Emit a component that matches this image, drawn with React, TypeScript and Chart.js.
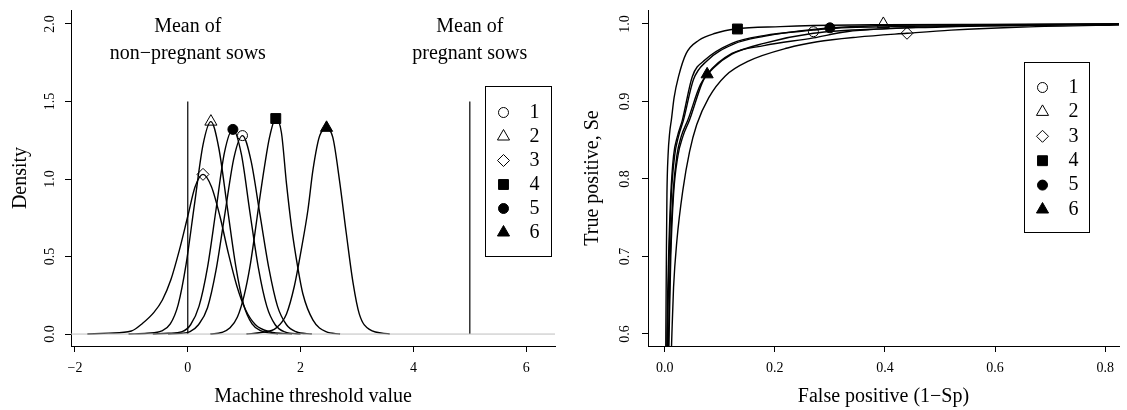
import React, { useEffect, useRef } from 'react';
import { Chart, registerables } from 'chart.js';
import { drawPoint } from 'chart.js/helpers';

Chart.register(...registerables);

const FONT = "'Liberation Serif', 'Times New Roman', serif";

const seriesNames = ['1', '2', '3', '4', '5', '6'];

// ---------- Left panel: densities of machine threshold value ----------
const dens1X = [-0.35, -0.12, 0.04, 0.19, 0.35, 0.5, 0.66, 0.82, 0.97, 1.12, 1.28, 1.44, 1.59, 1.75, 1.92, 2.2];
const dens1Y = [0.0, 0.005, 0.016, 0.06, 0.17, 0.41, 0.78, 1.14, 1.28, 1.12, 0.77, 0.42, 0.18, 0.06, 0.015, 0.0];

const dens2X = [-1.05, -0.72, -0.46, -0.31, -0.17, -0.03, 0.12, 0.27, 0.41, 0.55, 0.7, 0.85, 0.99, 1.14, 1.3, 1.6];
const dens2Y = [0.0, 0.005, 0.02, 0.065, 0.19, 0.45, 0.84, 1.22, 1.37, 1.2, 0.82, 0.44, 0.19, 0.065, 0.02, 0.0];

const dens3X = [-1.78, -1.4, -1.0, -0.8, -0.6, -0.45, -0.3, -0.15, 0.0, 0.13, 0.27, 0.42, 0.57, 0.72, 0.87, 1.02, 1.2, 1.45, 1.85];
const dens3Y = [0.0, 0.006, 0.02, 0.07, 0.14, 0.22, 0.35, 0.54, 0.76, 0.95, 1.03, 0.95, 0.76, 0.52, 0.31, 0.16, 0.06, 0.015, 0.0];

const dens4X = [0.4, 0.6, 0.75, 0.88, 1.0, 1.1, 1.19, 1.27, 1.36, 1.45, 1.56, 1.66, 1.75, 1.84, 1.95, 2.04, 2.22, 2.45, 2.7];
const dens4Y = [0.0, 0.01, 0.04, 0.11, 0.25, 0.43, 0.65, 0.86, 1.08, 1.27, 1.39, 1.3, 0.97, 0.69, 0.43, 0.26, 0.09, 0.015, 0.0];

const dens5X = [-0.62, -0.35, -0.1, 0.05, 0.2, 0.35, 0.5, 0.65, 0.8, 0.95, 1.1, 1.25, 1.4, 1.55, 1.72, 2.0];
const dens5Y = [0.0, 0.005, 0.016, 0.06, 0.18, 0.43, 0.8, 1.17, 1.32, 1.16, 0.79, 0.43, 0.18, 0.06, 0.014, 0.0];

const dens6X = [1.04, 1.3, 1.57, 1.75, 1.89, 2.01, 2.13, 2.22, 2.34, 2.46, 2.57, 2.69, 2.81, 2.93, 3.04, 3.22, 3.58];
const dens6Y = [0.0, 0.01, 0.04, 0.13, 0.31, 0.54, 0.8, 1.06, 1.28, 1.32, 1.27, 0.99, 0.65, 0.33, 0.13, 0.03, 0.0];

const densPeakX = [0.97, 0.41, 0.27, 1.56, 0.8, 2.46];
const densPeakY = [1.28, 1.37, 1.03, 1.39, 1.32, 1.33];

const meanLineX = [0, 5];
const meanLineTop = 1.5;
const meanLabels = [
  ['Mean of', 'non−pregnant sows'],
  ['Mean of', 'pregnant sows'],
];
const meanLabelY = [1.98, 1.81];

const densXTicks = [-2, 0, 2, 4, 6];
const densYTicks = [0, 0.5, 1.0, 1.5, 2.0];

// ---------- Right panel: ROC curves ----------
const roc1X = [0.0, 0.007, 0.01, 0.015, 0.022, 0.03, 0.042, 0.065, 0.09, 0.122, 0.18, 0.27, 0.4, 0.6, 0.85];
const roc1Y = [0.3, 0.6, 0.7, 0.78, 0.83, 0.855, 0.876, 0.922, 0.944, 0.961, 0.975, 0.988, 0.994, 0.998, 1.0];

const roc2X = [0.0, 0.005, 0.008, 0.012, 0.018, 0.025, 0.034, 0.052, 0.076, 0.125, 0.18, 0.27, 0.397, 0.55, 0.85];
const roc2Y = [0.3, 0.6, 0.7, 0.78, 0.83, 0.855, 0.876, 0.928, 0.952, 0.974, 0.984, 0.993, 0.998, 0.999, 1.0];

const roc3X = [0.0, 0.013, 0.016, 0.022, 0.033, 0.045, 0.058, 0.08, 0.11, 0.152, 0.223, 0.277, 0.35, 0.44, 0.52, 0.65, 0.85];
const roc3Y = [0.3, 0.6, 0.66, 0.72, 0.786, 0.835, 0.87, 0.905, 0.933, 0.952, 0.969, 0.977, 0.983, 0.988, 0.992, 0.996, 0.999];

const roc4X = [0.0, 0.002, 0.003, 0.004, 0.006, 0.009, 0.012, 0.017, 0.025, 0.039, 0.062, 0.092, 0.129, 0.21, 0.27, 0.4, 0.6, 0.85];
const roc4Y = [0.3, 0.6, 0.7, 0.78, 0.83, 0.86, 0.876, 0.905, 0.932, 0.962, 0.979, 0.988, 0.9935, 0.9966, 0.998, 0.999, 0.9995, 1.0];

const roc5X = [0.0, 0.004, 0.007, 0.011, 0.016, 0.023, 0.032, 0.05, 0.074, 0.122, 0.18, 0.27, 0.3, 0.45, 0.65, 0.85];
const roc5Y = [0.3, 0.6, 0.7, 0.78, 0.83, 0.855, 0.876, 0.932, 0.954, 0.975, 0.985, 0.992, 0.994, 0.997, 0.999, 1.0];

const roc6X = [0.0, 0.008, 0.011, 0.016, 0.024, 0.033, 0.045, 0.068, 0.077, 0.122, 0.18, 0.27, 0.33, 0.5, 0.75, 0.85];
const roc6Y = [0.3, 0.6, 0.7, 0.78, 0.83, 0.855, 0.876, 0.924, 0.935, 0.962, 0.972, 0.982, 0.99, 0.996, 0.999, 1.0];

const rocMarkX = [0.27, 0.397, 0.44, 0.132, 0.3, 0.077];
const rocMarkY = [0.99, 1.0, 0.988, 0.9935, 0.995, 0.935];

const rocXTicks = [0, 0.2, 0.4, 0.6, 0.8];
const rocYTicks = [0.6, 0.7, 0.8, 0.9, 1.0];

// legend anchors (data coordinates of the top-left corner of each legend box)
const densLegendAt = [5.27, 1.6];
const rocLegendAt = [0.652, 0.951];

// ---------- styles ----------
const markerStyle = ['circle', 'triangle', 'rectRot', 'rect', 'circle', 'triangle'];
const markerFilled = [false, false, false, true, true, true];
const markerRadius = [5, 7, 6, 7, 5, 7];
const LINE_W = 1.4;

const toPts = (xs: number[], ys: number[]) => xs.map((x, i) => ({ x, y: ys[i] }));

const curveDs = (xs: number[], ys: number[], color = '#000', width = LINE_W) => ({
  data: toPts(xs, ys),
  showLine: true,
  borderColor: color,
  borderWidth: width,
  pointRadius: 0,
  pointHoverRadius: 0,
  cubicInterpolationMode: 'monotone' as const,
  fill: false,
});

const markerDs = (i: number, x: number, y: number) => ({
  data: [{ x, y }],
  showLine: false,
  pointStyle: markerStyle[i],
  pointRadius: markerRadius[i],
  pointHoverRadius: markerRadius[i],
  pointBackgroundColor: markerFilled[i] ? '#000' : 'rgba(0,0,0,0)',
  pointBorderColor: '#000',
  pointBorderWidth: 1,
});

const legendPlugin = (at: number[], boxW: number, boxH: number, first: number, step: number) => ({
  id: 'boxLegend',
  afterDraw(chart: any) {
    const { ctx } = chart;
    const xs = chart.scales.x;
    const ys = chart.scales.y;
    const left = Math.round(xs.getPixelForValue(at[0])) + 0.5;
    const top = Math.round(ys.getPixelForValue(at[1])) + 0.5;
    ctx.save();
    ctx.strokeStyle = '#000';
    ctx.lineWidth = 1;
    ctx.strokeRect(left, top, boxW, boxH);
    seriesNames.forEach((name, i) => {
      const cy = top + first + i * step;
      ctx.fillStyle = markerFilled[i] ? '#000' : 'rgba(0,0,0,0)';
      ctx.strokeStyle = '#000';
      ctx.lineWidth = 1;
      drawPoint(ctx, { pointStyle: markerStyle[i], radius: markerRadius[i], borderWidth: 1, rotation: 0 } as any, left + 18, cy);
      ctx.fillStyle = '#000';
      ctx.font = `20px ${FONT}`;
      ctx.textAlign = 'left';
      ctx.textBaseline = 'middle';
      ctx.fillText(name, left + 44, cy);
    });
    ctx.restore();
  },
});

const meanTextPlugin = {
  id: 'meanText',
  afterDatasetsDraw(chart: any) {
    const { ctx } = chart;
    const xs = chart.scales.x;
    const ys = chart.scales.y;
    ctx.save();
    ctx.font = `20px ${FONT}`;
    ctx.fillStyle = '#000';
    ctx.textAlign = 'center';
    ctx.textBaseline = 'middle';
    meanLineX.forEach((mx, i) => {
      const px = xs.getPixelForValue(mx);
      meanLabels[i].forEach((t, j) => ctx.fillText(t, px, ys.getPixelForValue(meanLabelY[j])));
    });
    ctx.restore();
  },
};

const fmtMinus = (v: number) => (v < 0 ? '−' + Math.abs(v) : String(v));

const makeOptions = (cfg: {
  xMin: number; xMax: number; yMin: number; yMax: number;
  xTicks: number[]; yTicks: number[];
  xTitle: string; yTitle: string;
  yWidth: number; yTitlePad: number; yTickPad: number; rightPad: number;
  fmtX: (v: number) => string; fmtY: (v: number) => string;
}) => ({
  responsive: false,
  animation: false as const,
  events: [] as any[],
  layout: { padding: { top: 10, right: cfg.rightPad, left: 0, bottom: 0 } },
  plugins: { legend: { display: false }, tooltip: { enabled: false } },
  scales: {
    x: {
      type: 'linear' as const,
      position: 'bottom' as const,
      min: cfg.xMin,
      max: cfg.xMax,
      afterBuildTicks: (s: any) => { s.ticks = cfg.xTicks.map((v) => ({ value: v })); },
      afterFit: (s: any) => { s.height = 64; s.paddingLeft = 0; s.paddingRight = 0; },
      grid: { drawOnChartArea: false, drawTicks: true, tickLength: 6, tickColor: '#000', tickWidth: 1 },
      border: { display: true, color: '#000', width: 1 },
      ticks: {
        color: '#000', font: { family: FONT, size: 14 }, padding: 8,
        maxRotation: 0, minRotation: 0, autoSkip: false,
        callback: (v: any) => cfg.fmtX(Number(v)),
      },
      title: {
        display: true, text: cfg.xTitle, color: '#000',
        font: { family: FONT, size: 20 }, padding: { top: 0, bottom: 1 },
      },
    },
    y: {
      type: 'linear' as const,
      position: 'left' as const,
      min: cfg.yMin,
      max: cfg.yMax,
      afterBuildTicks: (s: any) => { s.ticks = cfg.yTicks.map((v) => ({ value: v })); },
      afterFit: (s: any) => { s.width = cfg.yWidth; s.paddingTop = 0; s.paddingBottom = 0; },
      grid: { drawOnChartArea: false, drawTicks: true, tickLength: 6, tickColor: '#000', tickWidth: 1 },
      border: { display: true, color: '#000', width: 1 },
      ticks: {
        color: '#000', font: { family: FONT, size: 14 }, padding: cfg.yTickPad,
        minRotation: 90, maxRotation: 90, crossAlign: 'center' as const, autoSkip: false,
        callback: (v: any) => cfg.fmtY(Number(v)),
      },
      title: {
        display: true, text: cfg.yTitle, color: '#000',
        font: { family: FONT, size: 20 }, padding: { top: cfg.yTitlePad, bottom: 0 },
      },
    },
  },
});

export default function App() {
  const leftRef = useRef<HTMLCanvasElement>(null);
  const rightRef = useRef<HTMLCanvasElement>(null);

  useEffect(() => {
    Chart.defaults.font.family = FONT;

    const densCurves = [
      [dens1X, dens1Y], [dens2X, dens2Y], [dens3X, dens3Y],
      [dens4X, dens4Y], [dens5X, dens5Y], [dens6X, dens6Y],
    ];
    const leftDatasets: any[] = [
      curveDs([-3, 7], [0, 0], '#bebebe', 1),
      ...meanLineX.map((mx) => ({ ...curveDs([mx, mx], [0, meanLineTop], '#000', 1.2), cubicInterpolationMode: 'default' })),
      ...densCurves.map(([xs, ys]) => curveDs(xs, ys)),
      ...densPeakX.map((x, i) => markerDs(i, x, densPeakY[i])),
    ];

    const left = new Chart(leftRef.current as HTMLCanvasElement, {
      type: 'scatter',
      data: { datasets: leftDatasets },
      options: makeOptions({
        xMin: -2.07, xMax: 6.51, yMin: -0.077, yMax: 2.09,
        xTicks: densXTicks, yTicks: densYTicks,
        xTitle: 'Machine threshold value', yTitle: 'Density',
        yWidth: 71, yTitlePad: 9, yTickPad: 6, rightPad: 7,
        fmtX: fmtMinus, fmtY: (v) => v.toFixed(1),
      }) as any,
      plugins: [meanTextPlugin, legendPlugin(densLegendAt, 66, 170, 26, 24)],
    });

    const rocCurves = [
      [roc1X, roc1Y], [roc2X, roc2Y], [roc3X, roc3Y],
      [roc4X, roc4Y], [roc5X, roc5Y], [roc6X, roc6Y],
    ];
    const rightDatasets: any[] = [
      ...rocCurves.map(([xs, ys]) => curveDs(xs, ys)),
      ...rocMarkX.map((x, i) => markerDs(i, x, rocMarkY[i])),
    ];

    const right = new Chart(rightRef.current as HTMLCanvasElement, {
      type: 'scatter',
      data: { datasets: rightDatasets },
      options: makeOptions({
        xMin: -0.0304, xMax: 0.825, yMin: 0.5845, yMax: 1.018,
        xTicks: rocXTicks, yTicks: rocYTicks,
        xTitle: 'False positive (1−Sp)', yTitle: 'True positive, Se',
        yWidth: 85, yTitlePad: 18, yTickPad: 8, rightPad: 0,
        fmtX: (v) => v.toFixed(1), fmtY: (v) => v.toFixed(1),
      }) as any,
      plugins: [legendPlugin(rocLegendAt, 65, 170, 25, 24.4)],
    });

    return () => {
      left.destroy();
      right.destroy();
    };
  }, []);

  return (
    <div style={{ position: 'absolute', left: 0, top: 0, width: 1127, height: 410, background: '#fff', overflow: 'hidden' }}>
      <canvas ref={leftRef} width={563} height={410} style={{ position: 'absolute', left: 0, top: 0, width: 563, height: 410 }} />
      <canvas ref={rightRef} width={564} height={410} style={{ position: 'absolute', left: 563, top: 0, width: 564, height: 410 }} />
    </div>
  );
}
